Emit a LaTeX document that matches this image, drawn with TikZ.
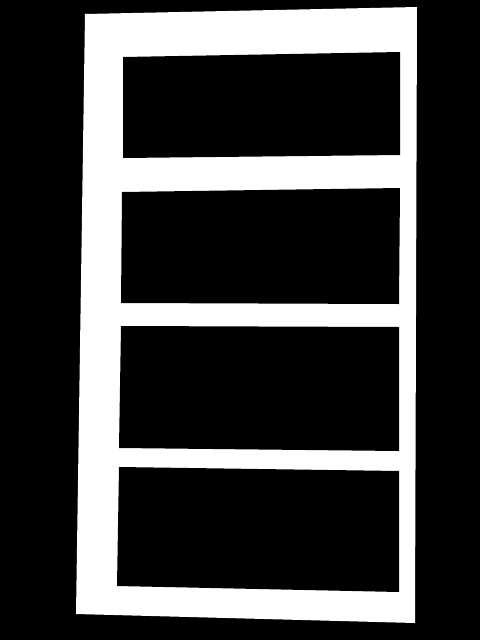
\documentclass[tikz,border=0pt]{standalone}
\begin{document}
\begin{tikzpicture}[x=0.025cm,y=-0.025cm]
    \fill[black] (0,0) rectangle (480,640);
    \fill[white] (85,14)--(417,7)--(415,623)--(76,614)--cycle;
    \fill[black] (123,57)--(400,52)--(400,155)--(123,158)--cycle;
    \fill[black] (122,192)--(400,188)--(399,304)--(121,303)--cycle;
    \fill[black] (121,326)--(399,327)--(399,451)--(119,448)--cycle;
    \fill[black] (119,467)--(399,471)--(399,592)--(117,586)--cycle;
\end{tikzpicture}
\end{document}
